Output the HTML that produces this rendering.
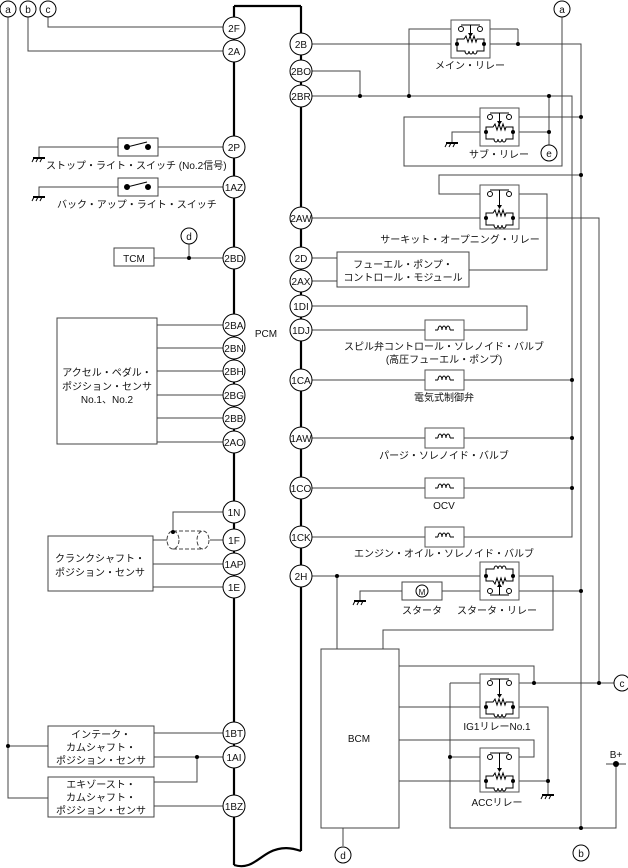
<!DOCTYPE html>
<html><head><meta charset="utf-8"><style>
body{margin:0;background:#fff}
svg{display:block}
text{font-family:"Liberation Sans","Noto Sans CJK JP",sans-serif;font-size:10px;fill:#111}
.t{text-anchor:middle}
</style></head><body>
<svg width="628" height="868" viewBox="0 0 628 868" xmlns="http://www.w3.org/2000/svg">
<defs>
<g id="relay">
<rect x="0" y="0" width="39" height="38" fill="#fff" stroke="#555" stroke-width="1"/>
<line x1="10" y1="5" x2="29" y2="5" stroke="#000"/>
<circle cx="10" cy="9" r="2.5" fill="#fff" stroke="#000"/>
<circle cx="29" cy="9" r="2.5" fill="#fff" stroke="#000"/>
<line x1="19.5" y1="5" x2="19.5" y2="14" stroke="#000"/>
<path d="M17 13 L19.5 17 L22 13Z" fill="#000"/>
<path d="M6 24 V19 H13 L15 16 L17 22 L19 16 L21 22 L23 16 L25 22 L26 19 H33 V24" fill="none" stroke="#000"/>
<path d="M6 24 V31 H14 a2 3 0 0 0 4 0 a2 3 0 0 0 4 0 a2 3 0 0 0 4 0 H33 V24" fill="none" stroke="#000"/>
<circle cx="6" cy="24" r="2" fill="#000"/>
<circle cx="33" cy="24" r="2" fill="#000"/>
</g>
<g id="relayT">
<rect x="0" y="0" width="39" height="44" fill="#fff" stroke="#555" stroke-width="1"/>
<line x1="10" y1="5" x2="29" y2="5" stroke="#000"/>
<circle cx="10" cy="9" r="2.5" fill="#fff" stroke="#000"/>
<circle cx="29" cy="9" r="2.5" fill="#fff" stroke="#000"/>
<line x1="19.5" y1="5" x2="19.5" y2="21" stroke="#000"/>
<path d="M17 20 L19.5 24 L22 20Z" fill="#000"/>
<path d="M6 33 V28 H13 L15 25 L17 31 L19 25 L21 31 L23 25 L25 31 L26 28 H33 V33" fill="none" stroke="#000"/>
<path d="M6 33 V40 H14 a2 3 0 0 0 4 0 a2 3 0 0 0 4 0 a2 3 0 0 0 4 0 H33 V33" fill="none" stroke="#000"/>
<circle cx="6" cy="33" r="2" fill="#000"/>
<circle cx="33" cy="33" r="2" fill="#000"/>
</g>
<g id="sol">
<rect x="0" y="0" width="39" height="20" fill="#fff" stroke="#555"/>
<path d="M13 10 a2 4 0 0 1 4 0 a2 4 0 0 1 4 0 a2 4 0 0 1 4 0" fill="none" stroke="#000"/>
<line x1="10" y1="10" x2="13" y2="10" stroke="#000"/><line x1="25" y1="10" x2="29" y2="10" stroke="#000"/>
</g>
<g id="gnd"><line x1="-6" y1="0" x2="6" y2="0" stroke="#000" stroke-width="2"/><line x1="-5" y1="0" x2="-7" y2="4" stroke="#000"/><line x1="-1" y1="0" x2="-3" y2="4" stroke="#000"/><line x1="3" y1="0" x2="1" y2="4" stroke="#000"/></g>
</defs>

<g fill="none" stroke="#444" stroke-width="1">
<path d="M8 17 V798 H48 M8 746 H48"/>
<path d="M28 17 V51 H223"/>
<path d="M48 17 V27 H223"/>
<path d="M39 158 V147 H118 M158 147 H223"/>
<path d="M39 197 V187 H118 M158 187 H223"/>
<path d="M154 258 H223 M189 244 V258"/>
<path d="M157 325 H223 M157 348 H223 M157 371 H223 M157 395 H223 M157 418 H223 M157 442 H223"/>
<path d="M223 512 H173 V532 M210 540 H223 M153 564 H223 M153 587 H223 M153 540 H167"/>
<path d="M154 733 H223 M154 757 H223 M197 757 V782 H154 M154 806 H223"/>
<path d="M312 44 H581 V828 M518 29 V44 M490 29 H518 M409 96 V29 H451"/>
<path d="M312 71 H360 V96 M312 96 H572 V537 H312"/>
<path d="M562 17 V166 H404 V117 H480 M519 117 H581 M549 96 V145 M452 143 V132 H480 M519 132 H549"/>
<path d="M581 175 H439 V194 H480 M519 194 H547 V270 H469 M312 218 H599 V683"/>
<path d="M312 258 H337 M312 281 H337"/>
<path d="M312 306 H527 V330 H312 M312 380 H572 M312 438 H572 M312 488 H572"/>
<path d="M312 576 H553 V630 H383 V649 M337 576 V649 M360 601 V591 H402 M442 591 H581"/>
<path d="M399 666 H534 V683 M450 683 V828 H616 V764 M450 683 H614 M519 707 H548 V795 M399 707 H480 M399 740 H534 V757 H450 M399 781 H480 M519 781 H548 M343 828 V846 M606 764 H626"/>
</g>
<path d="M234 6 V865 M301 6 V851 M234 6 H301 M234 865 C250 870 258 858 270 852 C282 846 292 848 301 851" fill="none" stroke="#000" stroke-width="2.2"/>

<g fill="#fff" stroke="#444">
<rect x="118" y="138" width="40" height="18"/><rect x="118" y="178" width="40" height="18"/>
<rect x="114" y="248" width="40" height="18"/>
<rect x="57" y="318" width="100" height="126"/>
<rect x="48" y="536" width="105" height="55"/>
<rect x="48" y="726" width="106" height="41"/><rect x="48" y="777" width="106" height="40"/>
<rect x="337" y="252" width="132" height="35"/>
<rect x="321" y="649" width="78" height="179"/>
<rect x="402" y="582" width="40" height="18"/>
</g>
<g fill="none" stroke="#444" stroke-dasharray="4,2"><ellipse cx="173" cy="540" rx="6" ry="9"/><ellipse cx="203" cy="540" rx="6" ry="9"/><path d="M173 531 H203 M173 549 H203"/></g>
<g stroke="#000" fill="#000"><circle cx="127" cy="147" r="2.5"/><circle cx="148" cy="147" r="2.5"/><line x1="127" y1="147" x2="147" y2="142"/>
<circle cx="127" cy="187" r="2.5"/><circle cx="148" cy="187" r="2.5"/><line x1="127" y1="187" x2="147" y2="182"/></g>
<circle cx="422" cy="591" r="6" fill="#fff" stroke="#000"/><text x="422" y="595" class="t" style="font-size:8px">M</text>

<use href="#relay" x="451" y="20"/>
<use href="#relay" x="480" y="108"/>
<use href="#relayT" x="480" y="185"/>
<use href="#relayT" x="480" y="674"/>
<use href="#relayT" x="480" y="748"/>
<use href="#relay" transform="translate(480,600) scale(1,-1)"/>
<use href="#sol" x="425" y="320"/><use href="#sol" x="425" y="370"/><use href="#sol" x="425" y="428"/><use href="#sol" x="425" y="478"/><use href="#sol" x="425" y="527"/>
<use href="#gnd" x="39" y="158"/><use href="#gnd" x="39" y="197"/><use href="#gnd" x="452" y="143"/><use href="#gnd" x="360" y="601"/><use href="#gnd" x="548" y="795"/>

<g fill="#000"><circle cx="189" cy="258" r="2"/><circle cx="173" cy="532" r="2"/><circle cx="8" cy="746" r="2"/><circle cx="197" cy="757" r="2"/>
<circle cx="518" cy="44" r="2"/><circle cx="360" cy="96" r="2"/><circle cx="409" cy="96" r="2"/><circle cx="549" cy="96" r="2"/><circle cx="549" cy="132" r="2"/>
<circle cx="581" cy="117" r="2"/><circle cx="581" cy="175" r="2"/><circle cx="572" cy="380" r="2"/><circle cx="572" cy="438" r="2"/><circle cx="572" cy="488" r="2"/>
<circle cx="337" cy="576" r="2"/><circle cx="581" cy="591" r="2"/><circle cx="534" cy="683" r="2"/><circle cx="599" cy="683" r="2"/><circle cx="450" cy="757" r="2"/><circle cx="548" cy="781" r="2"/><circle cx="581" cy="828" r="2"/><circle cx="616" cy="764" r="3"/></g>

<g fill="#fff" stroke="#000">
<circle cx="234" cy="28" r="11"/><circle cx="234" cy="51" r="11"/><circle cx="234" cy="147" r="11"/><circle cx="234" cy="187" r="11"/><circle cx="234" cy="258" r="11"/>
<circle cx="234" cy="325" r="11"/><circle cx="234" cy="348" r="11"/><circle cx="234" cy="371" r="11"/><circle cx="234" cy="395" r="11"/><circle cx="234" cy="418" r="11"/><circle cx="234" cy="442" r="11"/>
<circle cx="234" cy="512" r="11"/><circle cx="234" cy="540" r="11"/><circle cx="234" cy="564" r="11"/><circle cx="234" cy="587" r="11"/>
<circle cx="234" cy="733" r="11"/><circle cx="234" cy="757" r="11"/><circle cx="234" cy="806" r="11"/>
<circle cx="301" cy="44" r="11"/><circle cx="301" cy="71" r="11"/><circle cx="301" cy="96" r="11"/><circle cx="301" cy="218" r="11"/><circle cx="301" cy="258" r="11"/><circle cx="301" cy="281" r="11"/>
<circle cx="301" cy="306" r="11"/><circle cx="301" cy="330" r="11"/><circle cx="301" cy="380" r="11"/><circle cx="301" cy="438" r="11"/><circle cx="301" cy="488" r="11"/><circle cx="301" cy="537" r="11"/><circle cx="301" cy="576" r="11"/>
<circle cx="8" cy="9" r="8"/><circle cx="28" cy="9" r="8"/><circle cx="48" cy="9" r="8"/><circle cx="562" cy="9" r="8"/><circle cx="549" cy="153" r="8"/><circle cx="189" cy="236" r="8"/>
<circle cx="343" cy="855" r="8"/><circle cx="581" cy="853" r="8"/><circle cx="622" cy="683" r="8"/>
</g>
<g style="font-size:9.5px">
<text x="8" y="13" class="t">a</text><text x="28" y="13" class="t">b</text><text x="48" y="13" class="t">c</text><text x="562" y="13" class="t">a</text><text x="549" y="157" class="t">e</text><text x="189" y="240" class="t">d</text>
<text x="343" y="859" class="t">d</text><text x="581" y="857" class="t">b</text><text x="622" y="687" class="t">c</text>
<text x="234" y="32" class="t">2F</text><text x="234" y="55" class="t">2A</text><text x="234" y="151" class="t">2P</text><text x="234" y="191" class="t">1AZ</text><text x="234" y="262" class="t">2BD</text>
<text x="234" y="329" class="t">2BA</text><text x="234" y="352" class="t">2BN</text><text x="234" y="375" class="t">2BH</text><text x="234" y="399" class="t">2BG</text><text x="234" y="422" class="t">2BB</text><text x="234" y="446" class="t">2AO</text>
<text x="234" y="516" class="t">1N</text><text x="234" y="544" class="t">1F</text><text x="234" y="568" class="t">1AP</text><text x="234" y="591" class="t">1E</text>
<text x="234" y="737" class="t">1BT</text><text x="234" y="761" class="t">1AI</text><text x="234" y="810" class="t">1BZ</text>
<text x="301" y="48" class="t">2B</text><text x="301" y="75" class="t">2BO</text><text x="301" y="100" class="t">2BR</text><text x="301" y="222" class="t">2AW</text><text x="301" y="262" class="t">2D</text><text x="301" y="285" class="t">2AX</text>
<text x="301" y="310" class="t">1DI</text><text x="301" y="334" class="t">1DJ</text><text x="301" y="384" class="t">1CA</text><text x="301" y="442" class="t">1AW</text><text x="301" y="492" class="t">1CO</text><text x="301" y="541" class="t">1CK</text><text x="301" y="580" class="t">2H</text>
</g>
<text x="46" y="169">ストップ・ライト・スイッチ (No.2信号)</text>
<text x="57" y="208">バック・アップ・ライト・スイッチ</text>
<text x="134" y="262" class="t">TCM</text>
<text x="107" y="376" class="t">アクセル・ペダル・</text><text x="107" y="390" class="t">ポジション・センサ</text><text x="107" y="403" class="t">No.1、No.2</text>
<text x="266" y="337" class="t">PCM</text>
<text x="100" y="562" class="t">クランクシャフト・</text><text x="100" y="576" class="t">ポジション・センサ</text>
<text x="101" y="738" class="t">インテーク・</text><text x="101" y="751" class="t">カムシャフト・</text><text x="101" y="764" class="t">ポジション・センサ</text>
<text x="101" y="788" class="t">エキゾースト・</text><text x="101" y="801" class="t">カムシャフト・</text><text x="101" y="814" class="t">ポジション・センサ</text>
<text x="470" y="69" class="t">メイン・リレー</text>
<text x="499" y="158" class="t">サブ・リレー</text>
<text x="460" y="243" class="t">サーキット・オープニング・リレー</text>
<text x="403" y="268" class="t">フューエル・ポンプ・</text><text x="403" y="281" class="t">コントロール・モジュール</text>
<text x="444" y="350" class="t">スピル弁コントロール・ソレノイド・バルブ</text><text x="444" y="363" class="t">(高圧フューエル・ポンプ)</text>
<text x="444" y="401" class="t">電気式制御弁</text>
<text x="444" y="459" class="t">パージ・ソレノイド・バルブ</text>
<text x="444" y="509" class="t">OCV</text>
<text x="444" y="557" class="t">エンジン・オイル・ソレノイド・バルブ</text>
<text x="422" y="614" class="t">スタータ</text><text x="497" y="614" class="t">スタータ・リレー</text>
<text x="359" y="742" class="t">BCM</text>
<text x="497" y="730" class="t">IG1リレーNo.1</text>
<text x="497" y="806" class="t">ACCリレー</text>
<text x="616" y="758" class="t">B+</text>
</svg>
</body></html>
